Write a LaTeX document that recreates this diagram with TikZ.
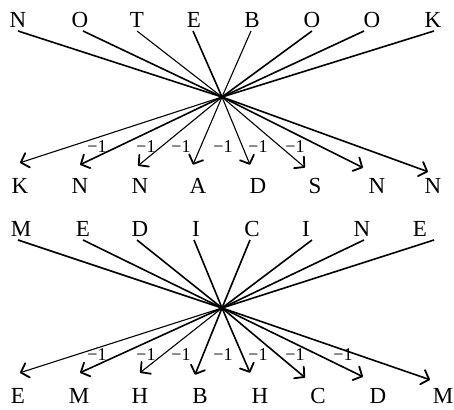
\documentclass[tikz,border=0pt]{standalone}
\usepackage{fontspec}
\setmainfont{Liberation Serif}
\usetikzlibrary{arrows.meta}

\begin{document}
\begin{tikzpicture}[
  x=1pt, y=1pt,
  >={Straight Barb[length=7pt, width=15pt, line width=1.8pt, round]},
  letter/.style = {font=\fontsize{23}{23}\selectfont, inner sep=0pt, anchor=base},
  inv/.style    = {font=\fontsize{18}{18}\selectfont, inner sep=0pt},
  thinln/.style = {line width=1.1pt},
  thickln/.style= {line width=1.6pt},
]
  \useasboundingbox (0,0) rectangle (454,409);

  % ---- Top: NOTEBOOK ----
  \coordinate (ca) at (222,312);

  % letter / x / start offset / width
  \foreach \l/\x/\dx/\w [count=\i] in {N/18/0/thickln, O/80/3/thickln, T/137/0/thinln,
      E/194/-1/thickln, B/252/-1/thinln, O/312/0/thickln, O/372/-8/thickln, K/433/1/thickln} {
    \node[letter] (ta\i) at (\x,381) {\l};
    \draw[\w] ([shift={(\dx,-3)}]ta\i.base) -- (ca);
  }

  % letter / x / tip offsets / width
  \foreach \l/\x/\dx/\dy/\w [count=\i] in {K/20/0/16/thinln, N/80/0/14/thickln, N/140/-2/13/thinln,
      A/198/-5/14/thinln, D/258/-8/14/thinln, S/315/-10/11/thinln, N/377/-14/11/thickln, N/433/-5/7/thickln} {
    \node[letter] (ba\i) at (\x,215) {\l};
    \draw[->, \w] (ca) -- ([shift={(\dx,\dy)}]ba\i.north);
  }

  \foreach \x [count=\i] in {97, 146, 181, 223, 258, 295}
    \node[inv] (la\i) at (\x,262) {−1};

  % ---- Bottom: MEDICINE ----
  \coordinate (cb) at (222,101);

  \foreach \l/\x/\dx/\w [count=\i] in {M/21/-3/thickln, E/83/0/thickln, D/140/-3/thickln,
      I/196/-2/thickln, C/252/-2/thickln, I/306/6/thickln, N/362/2/thickln, E/420/14/thickln} {
    \node[letter] (tb\i) at (\x,172) {\l};
    \draw[\w] ([shift={(\dx,-3)}]tb\i.base) -- (cb);
  }

  \foreach \l/\x/\dx/\dy/\w [count=\i] in {E/18/2/15/thinln, M/79/1/15/thickln, H/140/0/15/thinln,
      B/200/-5/13/thickln, H/260/-10/15/thickln, C/318/-13/10/thickln, D/378/-15/11/thickln, M/443/-13/8/thickln} {
    \node[letter] (bb\i) at (\x,6) {\l};
    \draw[->, \w] (cb) -- ([shift={(\dx,\dy)}]bb\i.north);
  }

  \foreach \x [count=\i] in {97, 146, 181, 223, 258, 295, 343}
    \node[inv] (lb\i) at (\x,54) {−1};
\end{tikzpicture}
\end{document}
